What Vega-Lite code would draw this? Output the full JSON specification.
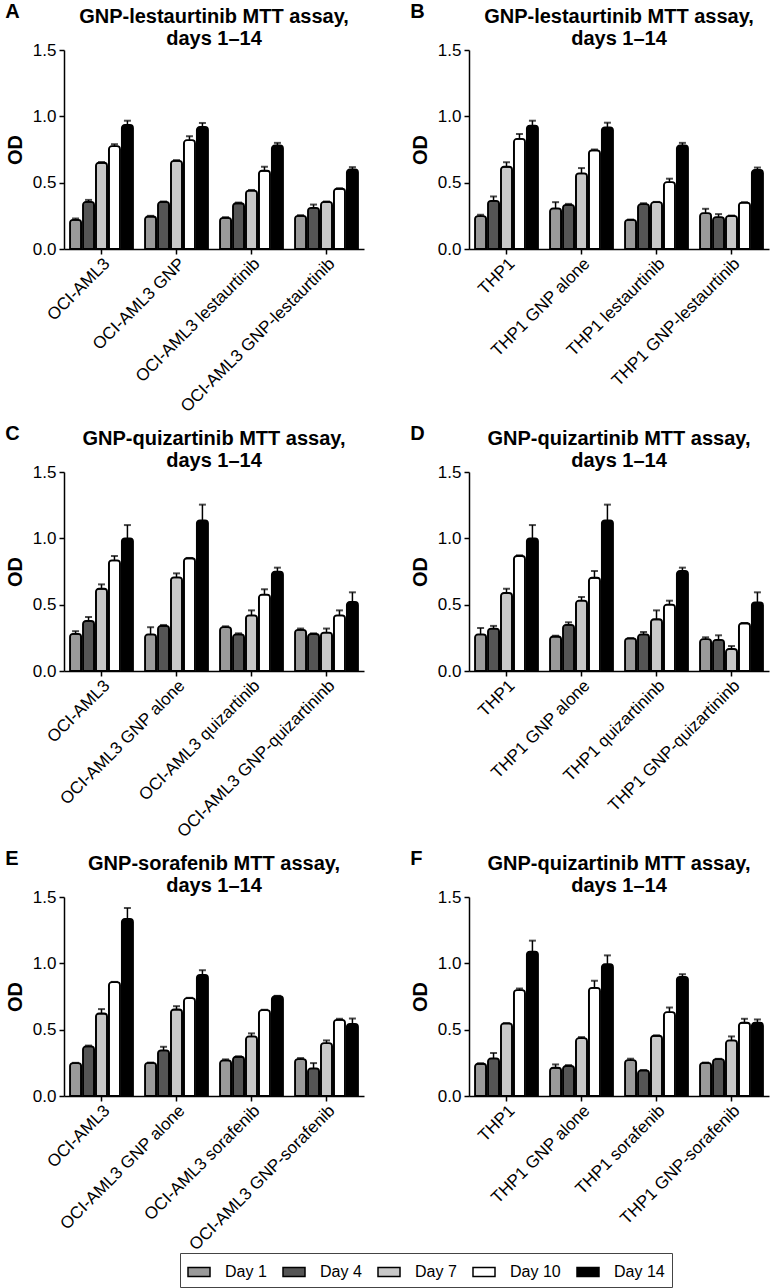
{
  "$schema": "https://vega.github.io/schema/vega-lite/v6.json",
  "background": "white",
  "padding": {"top": 2, "left": 5, "right": 5, "bottom": 5},
  "data": {"values": [
    {"p":"A","g":"OCI-AML3","d":"Day 1","od":0.22,"hi":0.23},
    {"p":"A","g":"OCI-AML3","d":"Day 4","od":0.355,"hi":0.37},
    {"p":"A","g":"OCI-AML3","d":"Day 7","od":0.65,"hi":0.655},
    {"p":"A","g":"OCI-AML3","d":"Day 10","od":0.775,"hi":0.79},
    {"p":"A","g":"OCI-AML3","d":"Day 14","od":0.935,"hi":0.967},
    {"p":"A","g":"OCI-AML3 GNP","d":"Day 1","od":0.245,"hi":0.25},
    {"p":"A","g":"OCI-AML3 GNP","d":"Day 4","od":0.355,"hi":0.358},
    {"p":"A","g":"OCI-AML3 GNP","d":"Day 7","od":0.665,"hi":0.67},
    {"p":"A","g":"OCI-AML3 GNP","d":"Day 10","od":0.82,"hi":0.85},
    {"p":"A","g":"OCI-AML3 GNP","d":"Day 14","od":0.92,"hi":0.95},
    {"p":"A","g":"OCI-AML3 lestaurtinib","d":"Day 1","od":0.235,"hi":0.24},
    {"p":"A","g":"OCI-AML3 lestaurtinib","d":"Day 4","od":0.345,"hi":0.35},
    {"p":"A","g":"OCI-AML3 lestaurtinib","d":"Day 7","od":0.44,"hi":0.445},
    {"p":"A","g":"OCI-AML3 lestaurtinib","d":"Day 10","od":0.59,"hi":0.62},
    {"p":"A","g":"OCI-AML3 lestaurtinib","d":"Day 14","od":0.78,"hi":0.80},
    {"p":"A","g":"OCI-AML3 GNP-lestaurtinib","d":"Day 1","od":0.25,"hi":0.255},
    {"p":"A","g":"OCI-AML3 GNP-lestaurtinib","d":"Day 4","od":0.31,"hi":0.335},
    {"p":"A","g":"OCI-AML3 GNP-lestaurtinib","d":"Day 7","od":0.355,"hi":0.358},
    {"p":"A","g":"OCI-AML3 GNP-lestaurtinib","d":"Day 10","od":0.454,"hi":0.457},
    {"p":"A","g":"OCI-AML3 GNP-lestaurtinib","d":"Day 14","od":0.60,"hi":0.617},

    {"p":"B","g":"THP1","d":"Day 1","od":0.248,"hi":0.258},
    {"p":"B","g":"THP1","d":"Day 4","od":0.363,"hi":0.396},
    {"p":"B","g":"THP1","d":"Day 7","od":0.62,"hi":0.654},
    {"p":"B","g":"THP1","d":"Day 10","od":0.83,"hi":0.867},
    {"p":"B","g":"THP1","d":"Day 14","od":0.93,"hi":0.967},
    {"p":"B","g":"THP1 GNP alone","d":"Day 1","od":0.306,"hi":0.353},
    {"p":"B","g":"THP1 GNP alone","d":"Day 4","od":0.333,"hi":0.34},
    {"p":"B","g":"THP1 GNP alone","d":"Day 7","od":0.57,"hi":0.61},
    {"p":"B","g":"THP1 GNP alone","d":"Day 10","od":0.744,"hi":0.75},
    {"p":"B","g":"THP1 GNP alone","d":"Day 14","od":0.917,"hi":0.952},
    {"p":"B","g":"THP1 lestaurtinib","d":"Day 1","od":0.22,"hi":0.222},
    {"p":"B","g":"THP1 lestaurtinib","d":"Day 4","od":0.338,"hi":0.345},
    {"p":"B","g":"THP1 lestaurtinib","d":"Day 7","od":0.353,"hi":0.355},
    {"p":"B","g":"THP1 lestaurtinib","d":"Day 10","od":0.504,"hi":0.53},
    {"p":"B","g":"THP1 lestaurtinib","d":"Day 14","od":0.78,"hi":0.80},
    {"p":"B","g":"THP1 GNP-lestaurtinib","d":"Day 1","od":0.27,"hi":0.303},
    {"p":"B","g":"THP1 GNP-lestaurtinib","d":"Day 4","od":0.24,"hi":0.263},
    {"p":"B","g":"THP1 GNP-lestaurtinib","d":"Day 7","od":0.25,"hi":0.252},
    {"p":"B","g":"THP1 GNP-lestaurtinib","d":"Day 10","od":0.35,"hi":0.352},
    {"p":"B","g":"THP1 GNP-lestaurtinib","d":"Day 14","od":0.596,"hi":0.614},

    {"p":"C","g":"OCI-AML3","d":"Day 1","od":0.28,"hi":0.30},
    {"p":"C","g":"OCI-AML3","d":"Day 4","od":0.377,"hi":0.407},
    {"p":"C","g":"OCI-AML3","d":"Day 7","od":0.62,"hi":0.653},
    {"p":"C","g":"OCI-AML3","d":"Day 10","od":0.834,"hi":0.867},
    {"p":"C","g":"OCI-AML3","d":"Day 14","od":1.0,"hi":1.10},
    {"p":"C","g":"OCI-AML3 GNP alone","d":"Day 1","od":0.276,"hi":0.33},
    {"p":"C","g":"OCI-AML3 GNP alone","d":"Day 4","od":0.34,"hi":0.347},
    {"p":"C","g":"OCI-AML3 GNP alone","d":"Day 7","od":0.706,"hi":0.736},
    {"p":"C","g":"OCI-AML3 GNP alone","d":"Day 10","od":0.85,"hi":0.852},
    {"p":"C","g":"OCI-AML3 GNP alone","d":"Day 14","od":1.136,"hi":1.254},
    {"p":"C","g":"OCI-AML3 quizartinib","d":"Day 1","od":0.33,"hi":0.337},
    {"p":"C","g":"OCI-AML3 quizartinib","d":"Day 4","od":0.276,"hi":0.284},
    {"p":"C","g":"OCI-AML3 quizartinib","d":"Day 7","od":0.42,"hi":0.457},
    {"p":"C","g":"OCI-AML3 quizartinib","d":"Day 10","od":0.575,"hi":0.616},
    {"p":"C","g":"OCI-AML3 quizartinib","d":"Day 14","od":0.749,"hi":0.779},
    {"p":"C","g":"OCI-AML3 GNP-quizartininb","d":"Day 1","od":0.31,"hi":0.32},
    {"p":"C","g":"OCI-AML3 GNP-quizartininb","d":"Day 4","od":0.279,"hi":0.284},
    {"p":"C","g":"OCI-AML3 GNP-quizartininb","d":"Day 7","od":0.29,"hi":0.32},
    {"p":"C","g":"OCI-AML3 GNP-quizartininb","d":"Day 10","od":0.42,"hi":0.457},
    {"p":"C","g":"OCI-AML3 GNP-quizartininb","d":"Day 14","od":0.52,"hi":0.593},

    {"p":"D","g":"THP1","d":"Day 1","od":0.276,"hi":0.324},
    {"p":"D","g":"THP1","d":"Day 4","od":0.32,"hi":0.34},
    {"p":"D","g":"THP1","d":"Day 7","od":0.588,"hi":0.62},
    {"p":"D","g":"THP1","d":"Day 10","od":0.867,"hi":0.872},
    {"p":"D","g":"THP1","d":"Day 14","od":1.0,"hi":1.10},
    {"p":"D","g":"THP1 GNP alone","d":"Day 1","od":0.26,"hi":0.266},
    {"p":"D","g":"THP1 GNP alone","d":"Day 4","od":0.347,"hi":0.367},
    {"p":"D","g":"THP1 GNP alone","d":"Day 7","od":0.53,"hi":0.558},
    {"p":"D","g":"THP1 GNP alone","d":"Day 10","od":0.703,"hi":0.754},
    {"p":"D","g":"THP1 GNP alone","d":"Day 14","od":1.136,"hi":1.254},
    {"p":"D","g":"THP1 quizartininb","d":"Day 1","od":0.246,"hi":0.248},
    {"p":"D","g":"THP1 quizartininb","d":"Day 4","od":0.276,"hi":0.294},
    {"p":"D","g":"THP1 quizartininb","d":"Day 7","od":0.39,"hi":0.457},
    {"p":"D","g":"THP1 quizartininb","d":"Day 10","od":0.50,"hi":0.53},
    {"p":"D","g":"THP1 quizartininb","d":"Day 14","od":0.754,"hi":0.779},
    {"p":"D","g":"THP1 GNP-quizartininb","d":"Day 1","od":0.24,"hi":0.254},
    {"p":"D","g":"THP1 GNP-quizartininb","d":"Day 4","od":0.234,"hi":0.269},
    {"p":"D","g":"THP1 GNP-quizartininb","d":"Day 7","od":0.166,"hi":0.188},
    {"p":"D","g":"THP1 GNP-quizartininb","d":"Day 10","od":0.36,"hi":0.362},
    {"p":"D","g":"THP1 GNP-quizartininb","d":"Day 14","od":0.518,"hi":0.593},

    {"p":"E","g":"OCI-AML3","d":"Day 1","od":0.248,"hi":0.25},
    {"p":"E","g":"OCI-AML3","d":"Day 4","od":0.374,"hi":0.38},
    {"p":"E","g":"OCI-AML3","d":"Day 7","od":0.622,"hi":0.655},
    {"p":"E","g":"OCI-AML3","d":"Day 10","od":0.858,"hi":0.86},
    {"p":"E","g":"OCI-AML3","d":"Day 14","od":1.334,"hi":1.417},
    {"p":"E","g":"OCI-AML3 GNP alone","d":"Day 1","od":0.25,"hi":0.252},
    {"p":"E","g":"OCI-AML3 GNP alone","d":"Day 4","od":0.344,"hi":0.371},
    {"p":"E","g":"OCI-AML3 GNP alone","d":"Day 7","od":0.652,"hi":0.677},
    {"p":"E","g":"OCI-AML3 GNP alone","d":"Day 10","od":0.737,"hi":0.74},
    {"p":"E","g":"OCI-AML3 GNP alone","d":"Day 14","od":0.913,"hi":0.948},
    {"p":"E","g":"OCI-AML3 sorafenib","d":"Day 1","od":0.268,"hi":0.276},
    {"p":"E","g":"OCI-AML3 sorafenib","d":"Day 4","od":0.296,"hi":0.298},
    {"p":"E","g":"OCI-AML3 sorafenib","d":"Day 7","od":0.449,"hi":0.472},
    {"p":"E","g":"OCI-AML3 sorafenib","d":"Day 10","od":0.647,"hi":0.65},
    {"p":"E","g":"OCI-AML3 sorafenib","d":"Day 14","od":0.752,"hi":0.755},
    {"p":"E","g":"OCI-AML3 GNP-sorafenib","d":"Day 1","od":0.278,"hi":0.286},
    {"p":"E","g":"OCI-AML3 GNP-sorafenib","d":"Day 4","od":0.208,"hi":0.248},
    {"p":"E","g":"OCI-AML3 GNP-sorafenib","d":"Day 7","od":0.399,"hi":0.419},
    {"p":"E","g":"OCI-AML3 GNP-sorafenib","d":"Day 10","od":0.574,"hi":0.582},
    {"p":"E","g":"OCI-AML3 GNP-sorafenib","d":"Day 14","od":0.544,"hi":0.584},

    {"p":"F","g":"THP1","d":"Day 1","od":0.243,"hi":0.246},
    {"p":"F","g":"THP1","d":"Day 4","od":0.283,"hi":0.324},
    {"p":"F","g":"THP1","d":"Day 7","od":0.547,"hi":0.549},
    {"p":"F","g":"THP1","d":"Day 10","od":0.798,"hi":0.81},
    {"p":"F","g":"THP1","d":"Day 14","od":1.089,"hi":1.171},
    {"p":"F","g":"THP1 GNP alone","d":"Day 1","od":0.213,"hi":0.238},
    {"p":"F","g":"THP1 GNP alone","d":"Day 4","od":0.226,"hi":0.233},
    {"p":"F","g":"THP1 GNP alone","d":"Day 7","od":0.436,"hi":0.444},
    {"p":"F","g":"THP1 GNP alone","d":"Day 10","od":0.815,"hi":0.868},
    {"p":"F","g":"THP1 GNP alone","d":"Day 14","od":0.993,"hi":1.06},
    {"p":"F","g":"THP1 sorafenib","d":"Day 1","od":0.271,"hi":0.281},
    {"p":"F","g":"THP1 sorafenib","d":"Day 4","od":0.193,"hi":0.195},
    {"p":"F","g":"THP1 sorafenib","d":"Day 7","od":0.454,"hi":0.456},
    {"p":"F","g":"THP1 sorafenib","d":"Day 10","od":0.632,"hi":0.667},
    {"p":"F","g":"THP1 sorafenib","d":"Day 14","od":0.898,"hi":0.918},
    {"p":"F","g":"THP1 GNP-sorafenib","d":"Day 1","od":0.25,"hi":0.252},
    {"p":"F","g":"THP1 GNP-sorafenib","d":"Day 4","od":0.278,"hi":0.28},
    {"p":"F","g":"THP1 GNP-sorafenib","d":"Day 7","od":0.419,"hi":0.449},
    {"p":"F","g":"THP1 GNP-sorafenib","d":"Day 10","od":0.552,"hi":0.582},
    {"p":"F","g":"THP1 GNP-sorafenib","d":"Day 14","od":0.552,"hi":0.577}
  ]},
  "columns": 2,
  "spacing": {"row": 9, "column": 46},
  "concat": [
    {"title": {"text": "A", "anchor": "start", "frame": "bounds", "offset": 0, "dy": 15}, "vconcat": [{"width": 300, "height": 199, "title": {"text": ["GNP-lestaurtinib MTT assay,", "days 1–14"]}, "transform": [{"filter": "datum.p === 'A'"}],
      "encoding": {"x": {"field": "g", "type": "nominal", "sort": null, "title": null, "scale": {"paddingInner": 0.16, "paddingOuter": 0.08}, "axis": {"labelAngle": -45}}, "xOffset": {"field": "d", "type": "nominal", "sort": ["Day 1","Day 4","Day 7","Day 10","Day 14"], "scale": {"paddingInner": 0.14}}},
      "layer": [
        {"mark": {"type": "bar", "stroke": "black", "strokeWidth": 1.8, "cornerRadiusTopLeft": 3, "cornerRadiusTopRight": 3}, "encoding": {"y": {"field": "od", "type": "quantitative", "title": "OD", "scale": {"domain": [0, 1.5], "nice": false}, "axis": {"values": [0, 0.5, 1, 1.5], "format": ".1f"}}, "fill": {"field": "d", "type": "nominal", "scale": {"domain": ["Day 1","Day 4","Day 7","Day 10","Day 14"], "range": ["#9a9a9a","#555555","#c8c8c8","#ffffff","#000000"]}}}},
        {"mark": {"type": "rule", "strokeWidth": 1.5, "color": "black"}, "encoding": {"y": {"field": "od", "type": "quantitative", "title": "OD"}, "y2": {"field": "hi"}}},
        {"mark": {"type": "tick", "thickness": 2, "size": 7, "color": "black"}, "encoding": {"y": {"field": "hi", "type": "quantitative", "title": "OD"}}}
      ]}]},
    {"title": {"text": "B", "anchor": "start", "frame": "bounds", "offset": 0, "dy": 15}, "vconcat": [{"width": 300, "height": 199, "title": {"text": ["GNP-lestaurtinib MTT assay,", "days 1–14"]}, "transform": [{"filter": "datum.p === 'B'"}],
      "encoding": {"x": {"field": "g", "type": "nominal", "sort": null, "title": null, "scale": {"paddingInner": 0.16, "paddingOuter": 0.08}, "axis": {"labelAngle": -45}}, "xOffset": {"field": "d", "type": "nominal", "sort": ["Day 1","Day 4","Day 7","Day 10","Day 14"], "scale": {"paddingInner": 0.14}}},
      "layer": [
        {"mark": {"type": "bar", "stroke": "black", "strokeWidth": 1.8, "cornerRadiusTopLeft": 3, "cornerRadiusTopRight": 3}, "encoding": {"y": {"field": "od", "type": "quantitative", "title": "OD", "scale": {"domain": [0, 1.5], "nice": false}, "axis": {"values": [0, 0.5, 1, 1.5], "format": ".1f"}}, "fill": {"field": "d", "type": "nominal", "scale": {"domain": ["Day 1","Day 4","Day 7","Day 10","Day 14"], "range": ["#9a9a9a","#555555","#c8c8c8","#ffffff","#000000"]}}}},
        {"mark": {"type": "rule", "strokeWidth": 1.5, "color": "black"}, "encoding": {"y": {"field": "od", "type": "quantitative", "title": "OD"}, "y2": {"field": "hi"}}},
        {"mark": {"type": "tick", "thickness": 2, "size": 7, "color": "black"}, "encoding": {"y": {"field": "hi", "type": "quantitative", "title": "OD"}}}
      ]}]},
    {"title": {"text": "C", "anchor": "start", "frame": "bounds", "offset": 0, "dy": 15}, "vconcat": [{"width": 300, "height": 199, "title": {"text": ["GNP-quizartinib MTT assay,", "days 1–14"]}, "transform": [{"filter": "datum.p === 'C'"}],
      "encoding": {"x": {"field": "g", "type": "nominal", "sort": null, "title": null, "scale": {"paddingInner": 0.16, "paddingOuter": 0.08}, "axis": {"labelAngle": -45}}, "xOffset": {"field": "d", "type": "nominal", "sort": ["Day 1","Day 4","Day 7","Day 10","Day 14"], "scale": {"paddingInner": 0.14}}},
      "layer": [
        {"mark": {"type": "bar", "stroke": "black", "strokeWidth": 1.8, "cornerRadiusTopLeft": 3, "cornerRadiusTopRight": 3}, "encoding": {"y": {"field": "od", "type": "quantitative", "title": "OD", "scale": {"domain": [0, 1.5], "nice": false}, "axis": {"values": [0, 0.5, 1, 1.5], "format": ".1f"}}, "fill": {"field": "d", "type": "nominal", "scale": {"domain": ["Day 1","Day 4","Day 7","Day 10","Day 14"], "range": ["#9a9a9a","#555555","#c8c8c8","#ffffff","#000000"]}}}},
        {"mark": {"type": "rule", "strokeWidth": 1.5, "color": "black"}, "encoding": {"y": {"field": "od", "type": "quantitative", "title": "OD"}, "y2": {"field": "hi"}}},
        {"mark": {"type": "tick", "thickness": 2, "size": 7, "color": "black"}, "encoding": {"y": {"field": "hi", "type": "quantitative", "title": "OD"}}}
      ]}]},
    {"title": {"text": "D", "anchor": "start", "frame": "bounds", "offset": 0, "dy": 15}, "vconcat": [{"width": 300, "height": 199, "title": {"text": ["GNP-quizartinib MTT assay,", "days 1–14"]}, "transform": [{"filter": "datum.p === 'D'"}],
      "encoding": {"x": {"field": "g", "type": "nominal", "sort": null, "title": null, "scale": {"paddingInner": 0.16, "paddingOuter": 0.08}, "axis": {"labelAngle": -45}}, "xOffset": {"field": "d", "type": "nominal", "sort": ["Day 1","Day 4","Day 7","Day 10","Day 14"], "scale": {"paddingInner": 0.14}}},
      "layer": [
        {"mark": {"type": "bar", "stroke": "black", "strokeWidth": 1.8, "cornerRadiusTopLeft": 3, "cornerRadiusTopRight": 3}, "encoding": {"y": {"field": "od", "type": "quantitative", "title": "OD", "scale": {"domain": [0, 1.5], "nice": false}, "axis": {"values": [0, 0.5, 1, 1.5], "format": ".1f"}}, "fill": {"field": "d", "type": "nominal", "scale": {"domain": ["Day 1","Day 4","Day 7","Day 10","Day 14"], "range": ["#9a9a9a","#555555","#c8c8c8","#ffffff","#000000"]}}}},
        {"mark": {"type": "rule", "strokeWidth": 1.5, "color": "black"}, "encoding": {"y": {"field": "od", "type": "quantitative", "title": "OD"}, "y2": {"field": "hi"}}},
        {"mark": {"type": "tick", "thickness": 2, "size": 7, "color": "black"}, "encoding": {"y": {"field": "hi", "type": "quantitative", "title": "OD"}}}
      ]}]},
    {"title": {"text": "E", "anchor": "start", "frame": "bounds", "offset": 0, "dy": 15}, "vconcat": [{"width": 300, "height": 199, "title": {"text": ["GNP-sorafenib MTT assay,", "days 1–14"]}, "transform": [{"filter": "datum.p === 'E'"}],
      "encoding": {"x": {"field": "g", "type": "nominal", "sort": null, "title": null, "scale": {"paddingInner": 0.16, "paddingOuter": 0.08}, "axis": {"labelAngle": -45}}, "xOffset": {"field": "d", "type": "nominal", "sort": ["Day 1","Day 4","Day 7","Day 10","Day 14"], "scale": {"paddingInner": 0.14}}},
      "layer": [
        {"mark": {"type": "bar", "stroke": "black", "strokeWidth": 1.8, "cornerRadiusTopLeft": 3, "cornerRadiusTopRight": 3}, "encoding": {"y": {"field": "od", "type": "quantitative", "title": "OD", "scale": {"domain": [0, 1.5], "nice": false}, "axis": {"values": [0, 0.5, 1, 1.5], "format": ".1f"}}, "fill": {"field": "d", "type": "nominal", "scale": {"domain": ["Day 1","Day 4","Day 7","Day 10","Day 14"], "range": ["#9a9a9a","#555555","#c8c8c8","#ffffff","#000000"]}}}},
        {"mark": {"type": "rule", "strokeWidth": 1.5, "color": "black"}, "encoding": {"y": {"field": "od", "type": "quantitative", "title": "OD"}, "y2": {"field": "hi"}}},
        {"mark": {"type": "tick", "thickness": 2, "size": 7, "color": "black"}, "encoding": {"y": {"field": "hi", "type": "quantitative", "title": "OD"}}}
      ]}]},
    {"title": {"text": "F", "anchor": "start", "frame": "bounds", "offset": 0, "dy": 15}, "vconcat": [{"width": 300, "height": 199, "title": {"text": ["GNP-quizartinib MTT assay,", "days 1–14"]}, "transform": [{"filter": "datum.p === 'F'"}],
      "encoding": {"x": {"field": "g", "type": "nominal", "sort": null, "title": null, "scale": {"paddingInner": 0.16, "paddingOuter": 0.08}, "axis": {"labelAngle": -45}}, "xOffset": {"field": "d", "type": "nominal", "sort": ["Day 1","Day 4","Day 7","Day 10","Day 14"], "scale": {"paddingInner": 0.14}}},
      "layer": [
        {"mark": {"type": "bar", "stroke": "black", "strokeWidth": 1.8, "cornerRadiusTopLeft": 3, "cornerRadiusTopRight": 3}, "encoding": {"y": {"field": "od", "type": "quantitative", "title": "OD", "scale": {"domain": [0, 1.5], "nice": false}, "axis": {"values": [0, 0.5, 1, 1.5], "format": ".1f"}}, "fill": {"field": "d", "type": "nominal", "scale": {"domain": ["Day 1","Day 4","Day 7","Day 10","Day 14"], "range": ["#9a9a9a","#555555","#c8c8c8","#ffffff","#000000"]}, "legend": {"orient": "none", "legendX": 116, "legendY": 1203, "direction": "horizontal", "title": null, "strokeColor": "#444444", "padding": 7, "symbolType": "M-1,-0.42H1V0.42H-1Z", "symbolSize": 484, "symbolStrokeColor": "black", "symbolStrokeWidth": 1.5, "labelFontSize": 16, "labelOffset": 14, "columnPadding": 13, "labelColor": "black"}}}},
        {"mark": {"type": "rule", "strokeWidth": 1.5, "color": "black"}, "encoding": {"y": {"field": "od", "type": "quantitative", "title": "OD"}, "y2": {"field": "hi"}}},
        {"mark": {"type": "tick", "thickness": 2, "size": 7, "color": "black"}, "encoding": {"y": {"field": "hi", "type": "quantitative", "title": "OD"}}}
      ]}]}
  ],
  "config": {
    "font": "Liberation Sans",
    "view": {"stroke": null},
    "axis": {"domainColor": "black", "domainWidth": 1.5, "tickColor": "black", "tickWidth": 1.5, "tickSize": 5, "labelColor": "black", "labelFontSize": 17, "labelLimit": 0, "grid": false, "titleColor": "black", "titleFontSize": 20, "titleFontWeight": "bold", "labelPadding": 3},
    "axisX": {"labelPadding": 1},
    "axisY": {"titlePadding": 7},
    "title": {"fontSize": 20, "fontWeight": "bold", "color": "black", "lineHeight": 22, "offset": -8},
    "legend": {"labelFont": "Liberation Sans"}
  }
}
